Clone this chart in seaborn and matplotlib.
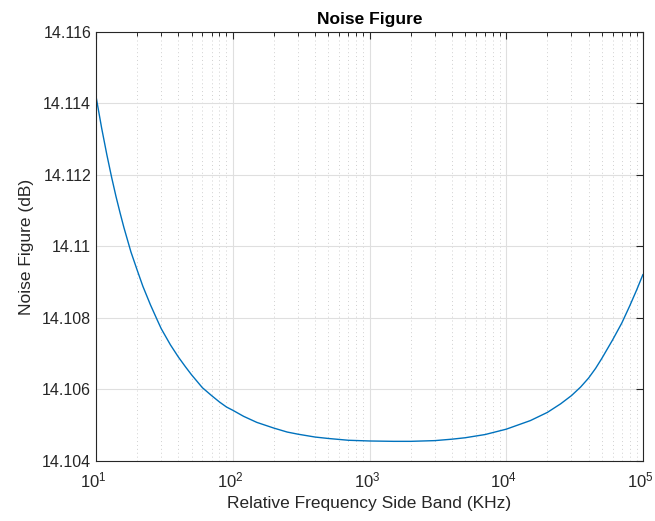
import matplotlib
matplotlib.use("Agg")
import matplotlib.pyplot as plt
import matplotlib.ticker as mticker
import matplotlib.transforms as mtrans
import seaborn as sns
import pandas as pd
import numpy as np

# data
freq_khz = [10, 11, 12, 13, 14, 15, 16, 18, 20, 22, 25, 28, 30, 35, 40, 45, 50, 60,
            70, 80, 90, 100, 120, 150, 200, 250, 300, 400, 500, 700, 1000, 1500,
            2000, 3000, 4000, 5000, 7000, 10000, 15000, 20000, 25000, 30000, 35000,
            40000, 45000, 50000, 60000, 70000, 80000, 90000, 100000]
noise_db = [14.11420, 14.11331, 14.11257, 14.11194, 14.11140, 14.11094, 14.11053,
            14.10985, 14.10934, 14.10889, 14.10837, 14.10795, 14.10770, 14.10725,
            14.10691, 14.10664, 14.10641, 14.10605, 14.10583, 14.10565, 14.10551,
            14.10542, 14.10525, 14.10508, 14.10492, 14.10481, 14.10475, 14.10467,
            14.10463, 14.10458, 14.10456, 14.10455, 14.10455, 14.10457, 14.10461,
            14.10465, 14.10474, 14.10489, 14.10513, 14.10536, 14.10560, 14.10583,
            14.10607, 14.10632, 14.10659, 14.10687, 14.10739, 14.10786, 14.10834,
            14.10879, 14.10922]

x_ticks = [10, 100, 1000, 10000, 100000]
x_tick_labels = [r"$10^{1}$", r"$10^{2}$", r"$10^{3}$", r"$10^{4}$", r"$10^{5}$"]
y_ticks = [14.104, 14.106, 14.108, 14.110, 14.112, 14.114, 14.116]
y_tick_labels = ["14.104", "14.106", "14.108", "14.11", "14.112", "14.114", "14.116"]

title_text = "Noise Figure"
x_label = "Relative Frequency Side Band (KHz)"
y_label = "Noise Figure (dB)"

sns.set_theme(style="white")
plt.rcParams["font.family"] = ["Liberation Sans", "DejaVu Sans"]
plt.rcParams["mathtext.fontset"] = "custom"
plt.rcParams["mathtext.rm"] = "Liberation Sans"
plt.rcParams["mathtext.it"] = "Liberation Sans:italic"

axc = "#262626"
fig = plt.figure(figsize=(6.55, 5.21), dpi=100)
ax = fig.add_axes([96 / 655, 1 - 461 / 521, (643 - 96) / 655, (461 - 32) / 521])

df = pd.DataFrame({"f": freq_khz, "nf": noise_db})
sns.lineplot(data=df, x="f", y="nf", ax=ax, color="#0072BD", linewidth=1.0)

ax.set_xscale("log")
ax.set_xlim(10, 1e5)
ax.set_ylim(14.104, 14.116)
ax.yaxis.set_major_locator(mticker.FixedLocator(y_ticks))
ax.set_yticklabels(y_tick_labels)
ax.xaxis.set_major_locator(mticker.FixedLocator(x_ticks))
ax.set_xticklabels(x_tick_labels)
ax.xaxis.set_minor_locator(mticker.LogLocator(base=10, subs=np.arange(2, 10), numticks=20))
ax.xaxis.set_minor_formatter(mticker.NullFormatter())

ax.grid(which="major", axis="both", color="#dfdfdf", linewidth=0.8, linestyle="-")
ax.grid(which="minor", axis="x", color="#d0d0d0", linewidth=0.7, linestyle=(0, (1, 3)))
ax.set_axisbelow(True)

ax.tick_params(which="both", direction="in", top=True, right=True, colors=axc,
               labelcolor=axc, labelsize=11.5)
ax.tick_params(axis="x", which="major", labelsize=12)
ax.tick_params(which="major", length=5, width=0.8)
ax.tick_params(which="minor", length=3, width=0.7)
ax.tick_params(axis="x", which="major", pad=7)
for s in ax.spines.values():
    s.set_color(axc)
    s.set_linewidth(0.8)
    s.set_visible(True)

shift = mtrans.ScaledTranslation(-2.5 / 100, 0, fig.dpi_scale_trans)
for lbl in ax.get_xticklabels():
    lbl.set_transform(lbl.get_transform() + shift)

ax.set_title(title_text, fontsize=12.5, fontweight="bold", color="black", pad=6)
ax.set_xlabel(x_label, fontsize=12.5, color=axc, labelpad=4)
ax.set_ylabel(y_label, fontsize=12.5, color=axc, labelpad=6)

fig.savefig("out.png", dpi=100)
